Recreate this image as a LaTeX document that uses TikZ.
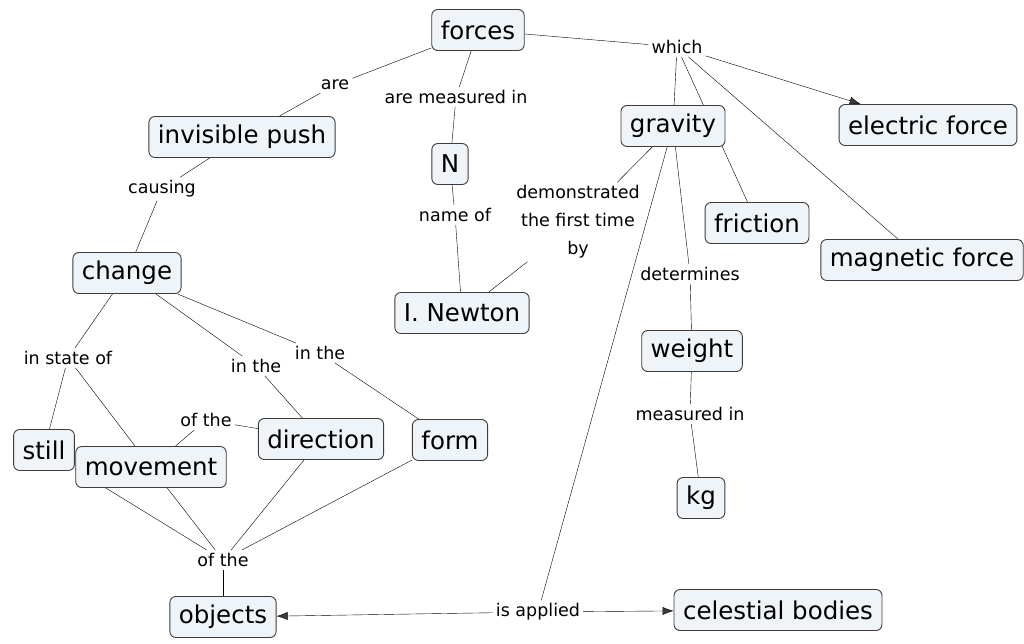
\documentclass[tikz,border=0pt]{standalone}
\usepackage{fontspec}
\setmainfont{DejaVu Sans}
\usetikzlibrary{backgrounds,arrows.meta}
\definecolor{boxfill}{RGB}{239,244,248}
\definecolor{boxline}{RGB}{60,60,60}
\tikzset{
  concept/.style={draw=boxline,fill=boxfill,rounded corners=6pt,line width=0.9pt,
    inner xsep=9pt,minimum height=41pt,font=\fontsize{24.5}{27}\selectfont},
  phrase/.style={inner sep=3pt,font=\fontsize{17.5}{28}\selectfont,align=center},
  link/.style={draw=boxline,line width=0.8pt},
  tip/.style={-{Latex[length=11pt,width=8pt]}}
}
\begin{document}
\begin{tikzpicture}[x=1pt,y=-1pt]
      \useasboundingbox (0,0) rectangle (1024,643);
      \draw
        (478,30) node[concept] (forces){forces}
        (242,137) node[concept] (push){invisible\,\,push}
        (450,164) node[concept] (N){N}
        (673,126) node[concept] (gravity){gravity}
        (928,125) node[concept] (electric){electric force}
        (757,223) node[concept] (friction){friction}
        (922,260) node[concept] (magnetic){magnetic force}
        (127,273) node[concept] (change){change}
        (462,313) node[concept] (newton){I. Newton}
        (692,351) node[concept] (weight){weight}
        (44,450) node[concept] (still){still}
        (151,467) node[concept] (movement){movement}
        (321,439) node[concept] (direction){direction}
        (450,440) node[concept] (form){form}
        (701,498) node[concept] (kg){kg}
        (223,617) node[concept] (objects){objects}
        (778,610) node[concept] (celestial){celestial bodies};
      \draw
        (677,47) node[phrase] (which){which}
        (335,85) node[phrase] (are){are}
        (456,97) node[phrase] (measured){are measured in}
        (162,189) node[phrase] (causing){causing}
        (455,215) node[phrase] (nameof){name of}
        (578,222) node[phrase] (demonstrated){demonstrated\\the first time\\by}
        (690,274) node[phrase] (determines){determines}
        (68,358) node[phrase] (stateof){in state of}
        (256,366) node[phrase] (inthe1){in the}
        (320,353) node[phrase] (inthe2){in the}
        (206,420) node[phrase] (ofthe1){of the}
        (690,414) node[phrase] (measuredin){measured in}
        (223,560) node[phrase] (ofthe2){of the}
        (538,612) node[phrase] (applied){is applied};
      \begin{scope}[on background layer,link]
        \draw (forces) to (are);
        \draw (are) to (push);
        \draw (forces) to (measured);
        \draw (measured) to (N);
        \draw (forces) to (which);
        \draw (which) to (gravity);
        \draw (which) to (friction);
        \draw (which) to (magnetic);
        \draw[tip] (which) to (electric);
        \draw (push) to (causing);
        \draw (causing) to (change);
        \draw (N) to (nameof);
        \draw (nameof) to (newton);
        \draw (gravity) to (demonstrated);
        \draw (demonstrated) to (newton);
        \draw (gravity) to (determines);
        \draw (determines) to (weight);
        \draw (weight) to (measuredin);
        \draw (measuredin) to (kg);
        \draw (gravity) to (applied);
        \draw[tip] (applied) to (objects);
        \draw[tip] (applied) to (celestial);
        \draw (change) to (stateof);
        \draw (stateof) to (still);
        \draw (stateof) to (movement);
        \draw (change) to (inthe1);
        \draw (inthe1) to (direction);
        \draw (change) to (inthe2);
        \draw (inthe2) to (form);
        \draw (movement) to (ofthe1);
        \draw (ofthe1) to (direction);
        \draw (still) to (ofthe2);
        \draw (movement) to (ofthe2);
        \draw (direction) to (ofthe2);
        \draw (form) to (ofthe2);
        \draw (ofthe2) to (objects);
      \end{scope}
    \end{tikzpicture}
\end{document}
